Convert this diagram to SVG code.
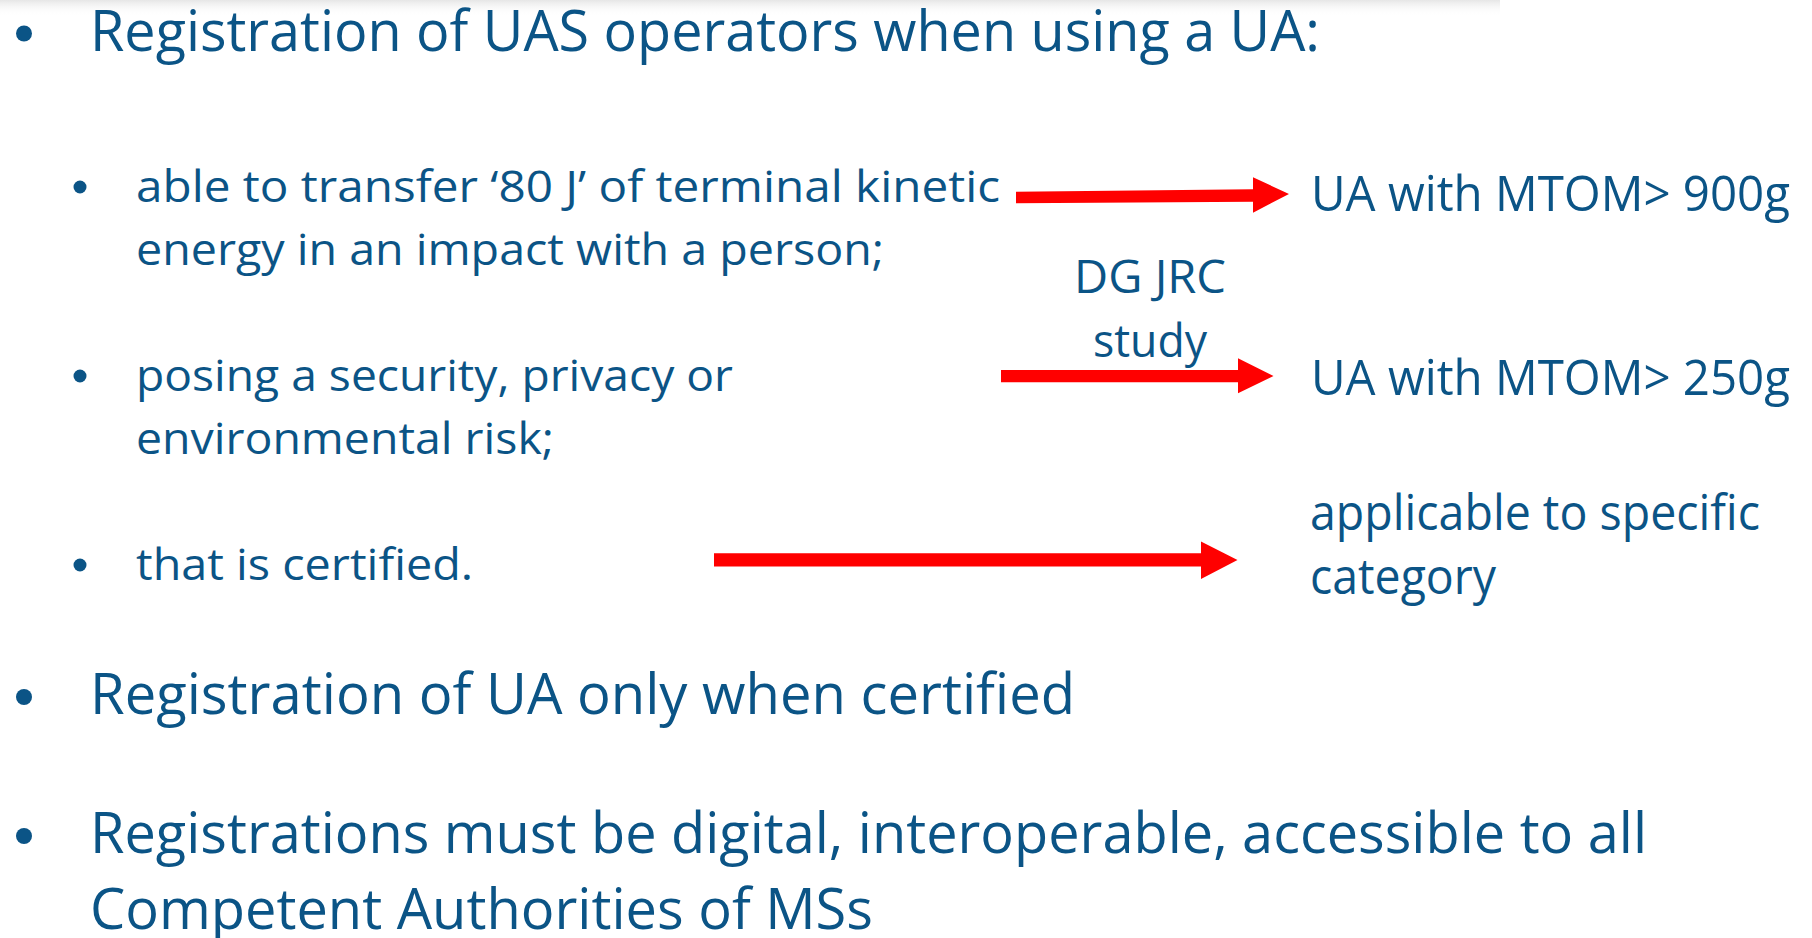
<svg xmlns="http://www.w3.org/2000/svg" width="1812" height="938" viewBox="0 0 1812 938">
<defs>
<linearGradient id="topShade" x1="0" y1="0" x2="0" y2="1">
<stop offset="0" stop-color="#e6e6e6"/>
<stop offset="1" stop-color="#ffffff" stop-opacity="0"/>
</linearGradient>
<style>
text{font-family:"Open Sans","Liberation Sans",sans-serif;fill:#0B5486;}
.big{font-size:57px;}
.sub{font-size:43px;}
.lbl{font-size:49px;}
.note{font-size:46px;}
.dot{fill:#0B5486;}
.arrow{fill:#FF0000;}
</style>
</defs>
<rect width="1812" height="938" fill="#ffffff"/>
<rect width="1500" height="16" fill="url(#topShade)"/>

<g id="bullet-registration-operators">
<circle class="dot" cx="24" cy="33.5" r="8"/>
<text class="big" x="90" y="51" textLength="1230" lengthAdjust="spacingAndGlyphs">Registration of UAS operators when using a UA:</text>
</g>

<g id="sub-kinetic-energy">
<circle class="dot" cx="80" cy="187" r="6.5"/>
<text class="sub" x="136" y="202" textLength="864" lengthAdjust="spacingAndGlyphs">able to transfer ‘80 J’ of terminal kinetic</text>
<text class="sub" x="136" y="265" textLength="748" lengthAdjust="spacingAndGlyphs">energy in an impact with a person;</text>
</g>

<g id="sub-security-risk">
<circle class="dot" cx="80" cy="376" r="6.5"/>
<text class="sub" x="136" y="391" textLength="597" lengthAdjust="spacingAndGlyphs">posing a security, privacy or</text>
<text class="sub" x="136" y="454" textLength="418" lengthAdjust="spacingAndGlyphs">environmental risk;</text>
</g>

<g id="sub-certified">
<circle class="dot" cx="80" cy="565" r="6.5"/>
<text class="sub" x="136" y="580" textLength="337" lengthAdjust="spacingAndGlyphs">that is certified.</text>
</g>

<g id="label-900g">
<text class="lbl" x="1311" y="211" textLength="479" lengthAdjust="spacingAndGlyphs">UA with MTOM&gt; 900g</text>
</g>

<g id="label-dg-jrc">
<text class="note" x="1074" y="293" textLength="152" lengthAdjust="spacingAndGlyphs">DG JRC</text>
<text class="note" x="1093" y="357" textLength="114" lengthAdjust="spacingAndGlyphs">study</text>
</g>

<g id="label-250g">
<text class="lbl" x="1311" y="395" textLength="479" lengthAdjust="spacingAndGlyphs">UA with MTOM&gt; 250g</text>
</g>

<g id="label-specific">
<text class="lbl" x="1310" y="530" textLength="450" lengthAdjust="spacingAndGlyphs">applicable to specific</text>
<text class="lbl" x="1310" y="594" textLength="186" lengthAdjust="spacingAndGlyphs">category</text>
</g>

<g id="bullet-registration-ua">
<circle class="dot" cx="24" cy="697" r="8"/>
<text class="big" x="90" y="714" textLength="985" lengthAdjust="spacingAndGlyphs">Registration of UA only when certified</text>
</g>

<g id="bullet-digital">
<circle class="dot" cx="24" cy="836" r="8"/>
<text class="big" x="90" y="853" textLength="1557" lengthAdjust="spacingAndGlyphs">Registrations must be digital, interoperable, accessible to all</text>
<text class="big" x="90" y="929" textLength="783" lengthAdjust="spacingAndGlyphs">Competent Authorities of MSs</text>
</g>

<g id="connectors">
<polygon class="arrow" points="1016,191.7 1253,189.3 1253,177.3 1289,194 1253,212.7 1253,201.7 1016,203.3"/>
<polygon class="arrow" points="1001,370 1238,370 1238,358.3 1273.5,376 1238,393.3 1238,382.3 1001,382.3"/>
<polygon class="arrow" points="714,553.3 1201,553.3 1201,541.4 1237.5,560 1201,578.9 1201,566.4 714,566.4"/>
</g>
</svg>
